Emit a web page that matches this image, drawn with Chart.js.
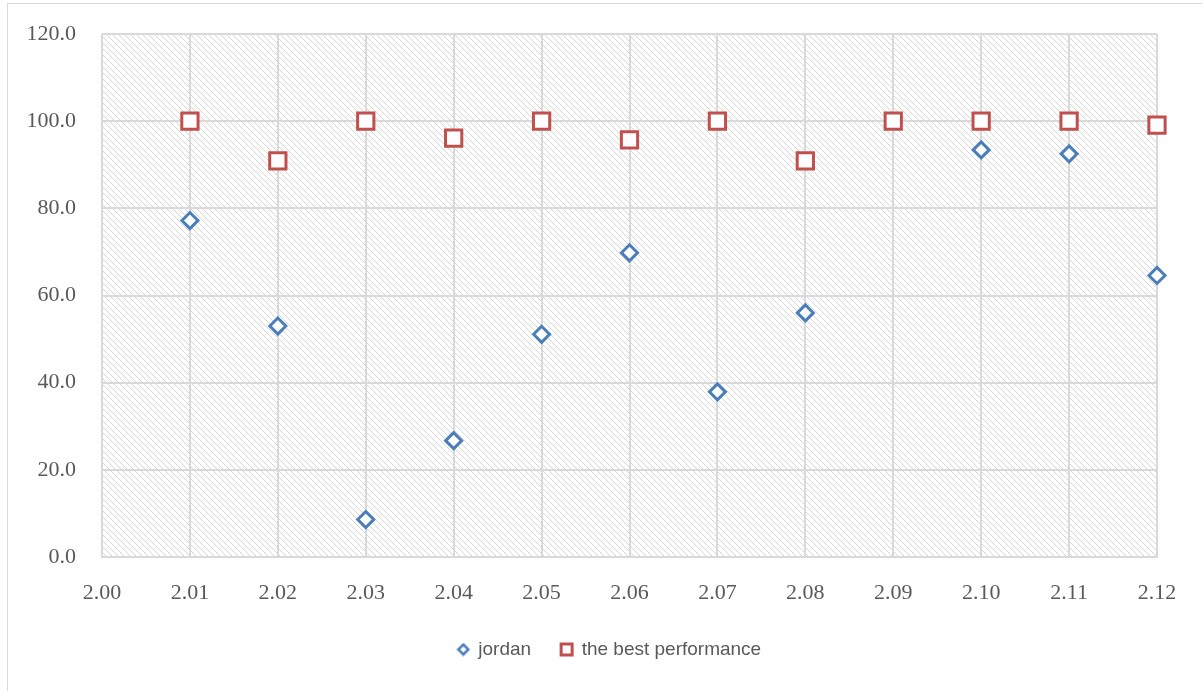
<!DOCTYPE html>
<html>
<head>
<meta charset="utf-8">
<script src="https://cdn.jsdelivr.net/npm/chart.js@4"></script>
<style>
  html, body { margin: 0; padding: 0; background: #fff; }
  #wrap { width: 1202px; height: 691px; }
</style>
</head>
<body>
<div id="wrap"><canvas id="myChart" width="1202" height="691"></canvas></div>
<script>
const ctx = document.getElementById('myChart')

Chart.defaults.color = '#595959'

// dates on the x axis, one score per series (null = no score that day)
const dates = [2.01, 2.02, 2.03, 2.04, 2.05, 2.06, 2.07, 2.08, 2.09, 2.10, 2.11, 2.12]
const jordan = [77.2, 53.0, 8.6, 26.7, 51.1, 69.8, 37.9, 56.0, null, 93.4, 92.5, 64.6]
const best = [100, 90.9, 100, 96.1, 100, 95.7, 100, 90.9, 100, 100, 100, 99.1]

const xMin = 2.00
const xMax = 2.12
const yMin = 0
const yMax = 120

const LEGEND_SHIFT = 31

const toPoints = (vals) => dates.map((d, i) => ({ x: d, y: vals[i] })).filter(p => p.y !== null)

// diagonal hatch for the plot area
const makeHatch = () => {
    const s = 6
    const c = document.createElement('canvas')
    c.width = s
    c.height = s
    const g = c.getContext('2d')
    g.fillStyle = '#ffffff'
    g.fillRect(0, 0, s, s)
    g.strokeStyle = '#d6d6d6'
    g.lineWidth = 1
    g.beginPath()
    g.moveTo(0, 0); g.lineTo(s, s)
    g.moveTo(-1, s - 1); g.lineTo(1, s + 1)
    g.moveTo(s - 1, -1); g.lineTo(s + 1, 1)
    g.stroke()
    return g.createPattern(c, 'repeat')
}

// small diamond for the legend entry
const makeLegendDiamond = () => {
    const s = 14
    const c = document.createElement('canvas')
    c.width = s
    c.height = s
    const g = c.getContext('2d')
    g.strokeStyle = '#4a7ebb'
    g.fillStyle = '#ffffff'
    g.lineWidth = 2.5
    g.beginPath()
    g.moveTo(7, 2); g.lineTo(12, 7); g.lineTo(7, 12); g.lineTo(2, 7)
    g.closePath()
    g.fill()
    g.stroke()
    return c
}

const background = {
    id: 'background',
    afterLayout(chart) {
        // legend sits a little right of the canvas centre
        chart.legend.left += LEGEND_SHIFT
        chart.legend.right += LEGEND_SHIFT
    },
    beforeDraw(chart) {
        const c = chart.ctx
        const a = chart.chartArea
        c.save()
        c.fillStyle = '#ffffff'
        c.fillRect(0, 0, chart.width, chart.height)
        c.strokeStyle = '#d9d9d9'
        c.lineWidth = 1
        c.strokeRect(7.5, 3.5, chart.width + 20, chart.height + 20)
        c.fillStyle = makeHatch()
        c.fillRect(a.left, a.top, a.right - a.left, a.bottom - a.top)
        c.restore()
    }
}

const tickFont = { family: '"Liberation Serif", "Times New Roman", serif', size: 22 }
const legendDiamond = makeLegendDiamond()

var chart = new Chart(ctx, {
    type: 'scatter',
    data: {
        datasets: [
            {
                label: 'jordan',
                data: toPoints(jordan),
                pointStyle: 'rectRot',
                pointRadius: 8,
                pointHoverRadius: 8,
                borderWidth: 3,
                borderColor: '#4a7ebb',
                backgroundColor: '#ffffff',
                clip: false
            },
            {
                label: 'the best performance',
                data: toPoints(best),
                pointStyle: 'rect',
                pointRadius: 11.5,
                pointHoverRadius: 11.5,
                borderWidth: 3,
                borderColor: '#c0504d',
                backgroundColor: '#ffffff',
                clip: false
            }
        ]
    },
    options: {
        responsive: false,
        animation: false,
        layout: {
            padding: { left: 0, top: 34, right: 45, bottom: 22 }
        },
        scales: {
            x: {
                type: 'linear',
                min: xMin,
                max: xMax,
                ticks: {
                    stepSize: 0.01,
                    padding: 23,
                    color: '#595959',
                    font: tickFont,
                    callback: v => v.toFixed(2)
                },
                grid: { color: '#d9d9d9', lineWidth: 2, drawTicks: false },
                border: { color: '#d9d9d9', width: 2 },
                afterFit: s => {
                    s.height = 53
                    s.paddingLeft = 0
                    s.paddingRight = 0
                }
            },
            y: {
                min: yMin,
                max: yMax,
                ticks: {
                    stepSize: 20,
                    padding: 26,
                    color: '#595959',
                    font: tickFont,
                    callback: v => v.toFixed(1)
                },
                grid: { color: '#d9d9d9', lineWidth: 2, drawTicks: false },
                border: { display: false },
                afterFit: s => {
                    s.width = 102
                    s.paddingTop = 0
                    s.paddingBottom = 0
                }
            }
        },
        plugins: {
            legend: {
                position: 'bottom',
                labels: {
                    usePointStyle: true,
                    boxWidth: 11,
                    boxHeight: 11,
                    padding: 30,
                    color: '#595959',
                    font: { family: '"Liberation Sans", Arial, sans-serif', size: 19 },
                    generateLabels: (c) => {
                        const items = Chart.defaults.plugins.legend.labels.generateLabels(c)
                        items[0].pointStyle = legendDiamond
                        return items
                    }
                }
            },
            tooltip: { enabled: false }
        }
    },
    plugins: [background]
})
</script>
</body>
</html>
